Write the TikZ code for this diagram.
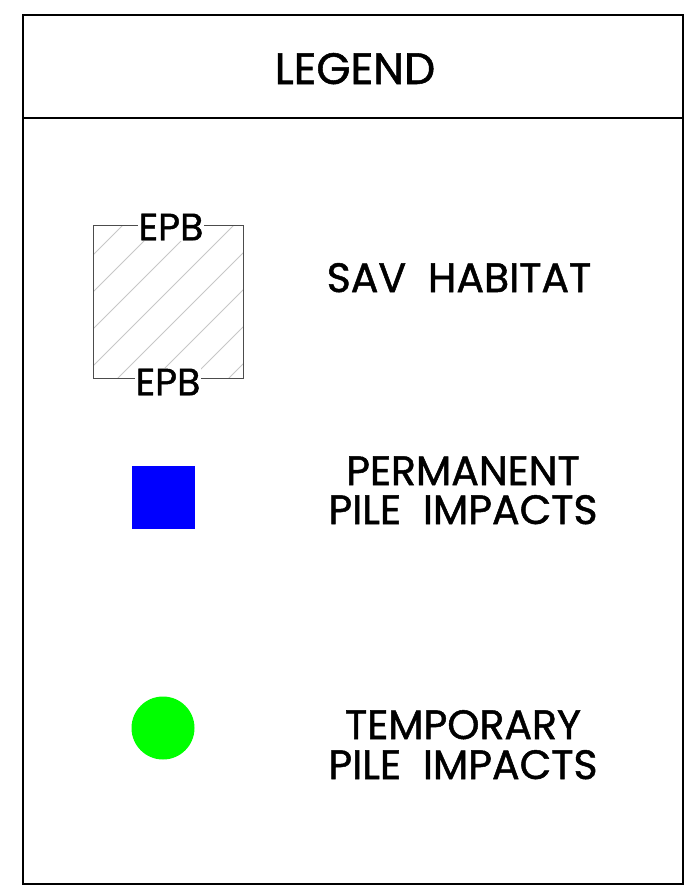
\documentclass[tikz,border=0pt]{standalone}
\usepackage{fontspec}
\setmainfont{Poppins}
\newfontfamily\boldish[FakeBold=1.2]{Poppins}
\begin{document}
\begin{tikzpicture}[x=1pt,y=-1pt,
  frame/.style={draw=black,line width=1.4pt},
  label/.style={font=\boldish\fontsize{41}{41}\selectfont,inner sep=0pt,anchor=base,align=center},
  epb/.style={font=\boldish\fontsize{38}{38}\selectfont,inner sep=0.5pt,fill=white},
  hatch/.style={draw=black!22,line width=0.8pt}]
\useasboundingbox (0,0) rectangle (685,887);
\draw[frame] (23,15) rectangle (683,884);
\draw[frame] (23,118) -- (683,118);
\node[label,font=\boldish\fontsize{44}{44}\selectfont] (title) at (355,84) {LEGEND};
% hatch box
\begin{scope}
\clip (93,225) rectangle (243,378);
\foreach \c in {348,385,422,459,496,533,570,607}
  \draw[hatch] (80,\c-80) -- (260,\c-260);
\end{scope}
\draw[draw=black!70,line width=1pt] (93,225) rectangle (243,378);
\node[epb] (epbt) at (171,227) {EPB};
\node[epb] (epbb) at (168,382) {EPB};
\node[label] (sav) at (459,292) {SAV\ \ HABITAT};
% permanent
\fill[blue] (132,466) rectangle (195,529);
\node[label] (perm1) at (463,485) {PERMANENT};
\node[label] (perm2) at (463,524) {PILE\ \ IMPACTS};
% temporary
\fill[green] (163,728) circle (31.5);
\node[label] (temp1) at (463,739) {TEMPORARY};
\node[label] (temp2) at (463,779) {PILE\ \ IMPACTS};
\end{tikzpicture}
\end{document}
